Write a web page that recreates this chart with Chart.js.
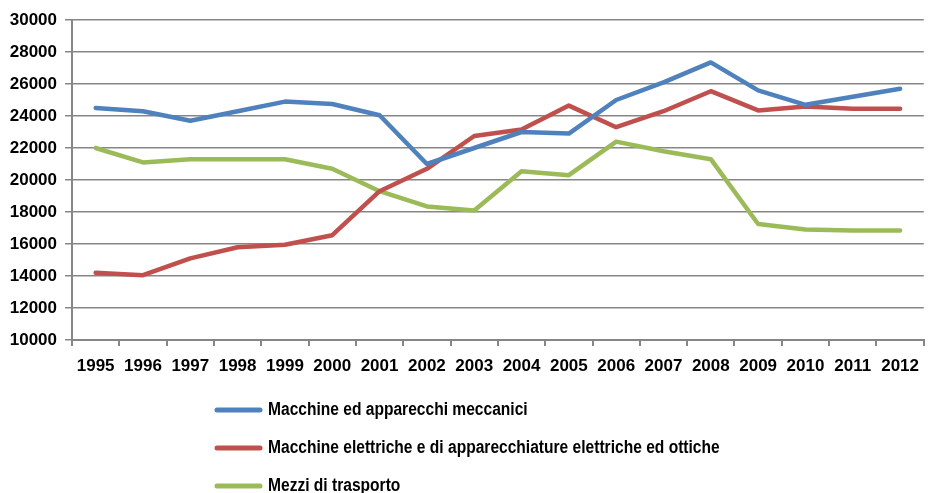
<!DOCTYPE html>
<html>
<head>
<meta charset="utf-8">
<script src="https://cdn.jsdelivr.net/npm/chart.js@4"></script>
<style>
html,body{margin:0;padding:0;background:#fff;}
#wrap{width:929px;height:493px;position:relative;}
</style>
</head>
<body>
<div id="wrap"><canvas id="c" width="929" height="493"></canvas></div>
<script>
const years = ['1995','1996','1997','1998','1999','2000','2001','2002','2003','2004','2005','2006','2007','2008','2009','2010','2011','2012'];
const meccanici = [24500,24300,23700,24300,24900,24750,24050,21000,22000,23000,22900,25000,26100,27350,25600,24700,25200,25700];
const elettriche = [14200,14050,15100,15800,15950,16550,19300,20700,22750,23150,24650,23300,24300,25550,24350,24600,24450,24450];
const trasporto = [22000,21100,21300,21300,21300,20700,19300,18350,18100,20550,20300,22400,21800,21300,17250,16900,16850,16850];
const seriesNames = ['Macchine ed apparecchi meccanici','Macchine elettriche e di apparecchiature elettriche ed ottiche','Mezzi di trasporto'];
const seriesColors = ['#4F81BD','#C0504D','#9BBB59'];

const labelFont = {family:'"Liberation Sans", Arial, sans-serif', size:17, weight:'bold'};

const legendPlugin = {
  id:'vlegend',
  afterDraw(chart){
    const ctx = chart.ctx;
    ctx.save();
    chart.data.datasets.forEach((ds,i)=>{
      const y = 410 + i*38;
      ctx.strokeStyle = ds.borderColor;
      ctx.lineWidth = 5;
      ctx.lineCap = 'round';
      ctx.beginPath(); ctx.moveTo(217,y); ctx.lineTo(260,y); ctx.stroke();
      ctx.save();
      ctx.translate(268, y);
      ctx.scale(0.865, 1);
      ctx.font = 'bold 18px "Liberation Sans", Arial, sans-serif';
      ctx.textBaseline = 'middle';
      ctx.fillStyle = '#000';
      ctx.fillText(ds.label, 0, 0);
      ctx.restore();
    });
    ctx.restore();
  }
};

new Chart(document.getElementById('c'), {
  type:'line',
  data:{
    labels: years,
    datasets:[
      {label:seriesNames[0], data:meccanici, borderColor:seriesColors[0], backgroundColor:seriesColors[0]},
      {label:seriesNames[1], data:elettriche, borderColor:seriesColors[1], backgroundColor:seriesColors[1]},
      {label:seriesNames[2], data:trasporto, borderColor:seriesColors[2], backgroundColor:seriesColors[2]}
    ]
  },
  options:{
    responsive:false,
    animation:false,
    devicePixelRatio:1,
    layout:{padding:{top:20,right:0,bottom:0,left:0}},
    elements:{line:{borderWidth:4.5,tension:0,borderCapStyle:'round',borderJoinStyle:'round'},point:{radius:0}},
    plugins:{legend:{display:false},tooltip:{enabled:false}},
    scales:{
      x:{
        offset:true,
        grid:{display:true,drawOnChartArea:false,drawTicks:true,tickLength:6,color:'#868686',lineWidth:2,offset:true},
        border:{display:true,color:'#868686',width:2},
        ticks:{color:'#000',font:labelFont,padding:10,maxRotation:0,autoSkip:false},
        afterFit(s){ s.height = 153; }
      },
      y:{
        min:10000,max:30000,
        grid:{color:'#868686',lineWidth:1.5,tickLength:7,drawTicks:true},
        border:{display:true,color:'#868686',width:2},
        ticks:{stepSize:2000,color:'#000',font:labelFont,padding:8,callback:(v)=>String(v)},
        afterFit(s){ s.width = 72; }
      }
    }
  },
  plugins:[legendPlugin]
});
</script>
</body>
</html>
